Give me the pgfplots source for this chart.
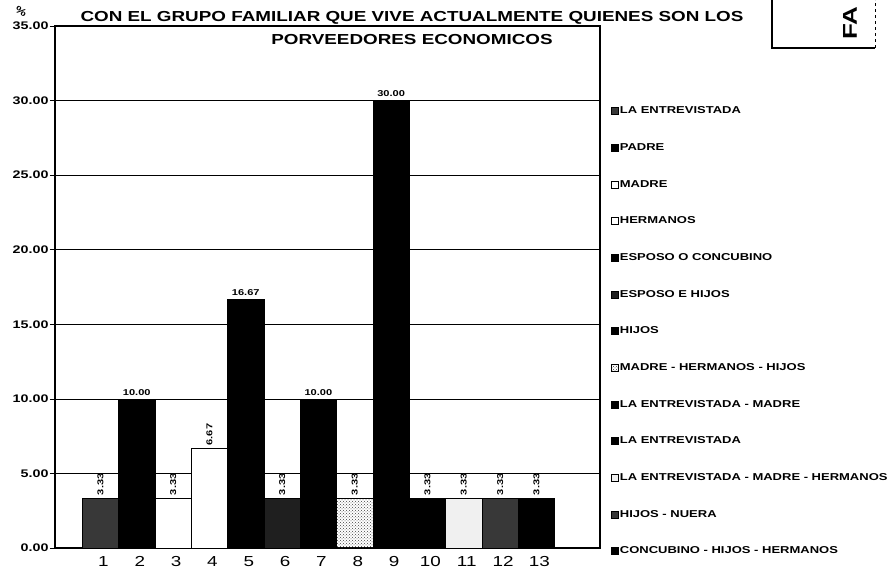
\documentclass[border=0pt]{standalone}
\usepackage{pgfplots}
\pgfplotsset{compat=1.18}
\usetikzlibrary{patterns}
\usepackage{fontspec}
\setmainfont{Liberation Sans}[FakeStretch=1.3]
\begin{document}
\begin{tikzpicture}[x=1pt,y=1pt]
\useasboundingbox (0,0) rectangle (895,575);
\begin{axis}[
  at={(55pt,27pt)}, anchor=south west,
  scale only axis, width=545pt, height=522pt,
  ybar, bar width=1,
  xmin=-0.25, xmax=14.75, ymin=0, ymax=35,
  ytick={0,5,...,35},
  xtick={1,...,13},
  ytick pos=left, xtick pos=bottom,
  ymajorgrids, grid style={black, line width=0.6pt},
  axis line style={black},
  x axis line style={line width=0.8pt},
  y axis line style={line width=1.4pt},
  tick align=outside, major tick length=5pt,
  xtick style={draw=none},
  ytick style={black, line width=0.6pt},
  /pgf/number format/assume math mode=true,
  yticklabel={\pgfmathprintnumber[fixed,fixed zerofill,precision=2]{\tick}},
  yticklabel style={font=\fontsize{11}{12}\selectfont\bfseries, xshift=2pt},
  xticklabel style={font=\fontsize{14.5}{15}\selectfont, xshift=3pt},
  legend style={at={(1.015,0.851)}, anchor=north west, draw=none, fill=none,
    font=\fontsize{10}{11}\selectfont\bfseries, row sep=26.2pt,
    nodes={inner sep=1pt}},
  legend cell align=left,
  legend image code/.code={\draw[#1, line width=0.5pt] (0pt,-3.5pt) rectangle (7pt,3.5pt);},
  nodes near coords={\pgfmathprintnumber[fixed,fixed zerofill,precision=2]{\pgfplotspointmeta}},
  nodes near coords style={font=\fontsize{8.5}{9}\selectfont\bfseries, black},
  every axis plot/.append style={bar shift=0pt, draw=black, line width=0.5pt},
  rot/.style={nodes near coords style={rotate=90, anchor=west, inner sep=3pt}},
]
\addplot[fill=black!78, rot] coordinates {(1,3.33)};
\addlegendentry{LA ENTREVISTADA}
\addplot[fill=black] coordinates {(2,10.00)};
\addlegendentry{PADRE}
\addplot[fill=white, rot] coordinates {(3,3.33)};
\addlegendentry{MADRE}
\addplot[fill=white, rot] coordinates {(4,6.67)};
\addlegendentry{HERMANOS}
\addplot[fill=black] coordinates {(5,16.67)};
\addlegendentry{ESPOSO O CONCUBINO}
\addplot[fill=black!88, rot] coordinates {(6,3.33)};
\addlegendentry{ESPOSO E HIJOS}
\addplot[fill=black] coordinates {(7,10.00)};
\addlegendentry{HIJOS}
\addplot[pattern=crosshatch dots, pattern color=black!75, rot] coordinates {(8,3.33)};
\addlegendentry{MADRE - HERMANOS - HIJOS}
\addplot[fill=black] coordinates {(9,30.00)};
\addlegendentry{LA ENTREVISTADA - MADRE}
\addplot[fill=black, rot] coordinates {(10,3.33)};
\addlegendentry{LA ENTREVISTADA}
\addplot[fill=black!6, rot] coordinates {(11,3.33)};
\addlegendentry{LA ENTREVISTADA - MADRE - HERMANOS}
\addplot[fill=black!78, rot] coordinates {(12,3.33)};
\addlegendentry{HIJOS - NUERA}
\addplot[fill=black, rot] coordinates {(13,3.33)};
\addlegendentry{CONCUBINO - HIJOS - HERMANOS}
\end{axis}
\node[font=\fontsize{10}{11}\selectfont\bfseries, rotate=-30] at (21,564) {\%};
\node[align=center, font=\fontsize{14.5}{23}\selectfont\bfseries] at (412,547)
  {CON EL GRUPO FAMILIAR QUE VIVE ACTUALMENTE QUIENES SON LOS\\PORVEEDORES ECONOMICOS};
\draw[line width=1.2pt] (772,575) -- (772,527) -- (875,527);
\draw[line width=0.5pt, dashed] (875,527) -- (875,575);
\node[rotate=90, font=\fontsize{20}{22}\selectfont\bfseries] at (850,552) {FA};
\end{tikzpicture}
\end{document}
